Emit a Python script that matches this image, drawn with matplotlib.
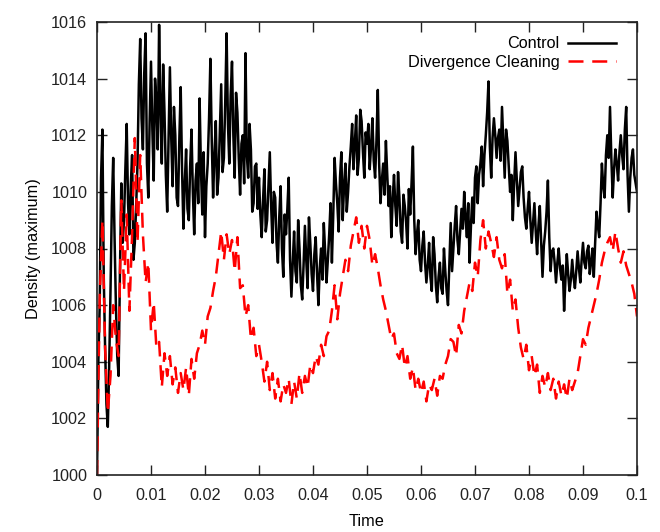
import numpy as np
import matplotlib
matplotlib.use("Agg")
import matplotlib.pyplot as plt

# ---- data ----
# Control: sampled every 0.00025 in time
control = [
    1000.0, 1004.0, 1006.0, 1010.5, 1012.2, 1007.0, 1004.5, 1002.5, 1001.7, 1003.8,
    1006.5, 1009.5, 1011.2, 1008.4, 1006.0, 1004.2, 1003.5, 1007.2, 1010.3, 1008.2,
    1009.0, 1010.8, 1012.4, 1009.6, 1008.5, 1010.2, 1011.3, 1007.6, 1008.2, 1009.5,
    1011.0, 1013.8, 1015.4, 1012.6, 1011.5, 1014.2, 1015.6, 1011.0, 1009.8, 1012.5,
    1014.6, 1012.2, 1010.4, 1014.0, 1013.2, 1011.5, 1015.9, 1013.0, 1011.0, 1014.5,
    1012.8, 1010.6, 1009.3, 1011.8, 1014.4, 1011.9, 1010.2, 1013.0, 1012.0, 1009.8,
    1009.5, 1011.9, 1013.7, 1010.8, 1008.7, 1010.3, 1011.5, 1009.4, 1009.0, 1010.9,
    1012.2, 1010.0, 1008.5, 1010.4, 1011.0, 1009.6, 1013.3, 1010.8, 1009.2, 1011.4,
    1008.4, 1010.2, 1011.0, 1012.6, 1014.7, 1011.8, 1009.8, 1011.3, 1012.5, 1009.9,
    1010.5, 1012.2, 1013.8, 1010.7, 1011.2, 1013.2, 1015.6, 1012.4, 1011.0, 1013.4,
    1014.6, 1012.0, 1010.5, 1013.5, 1012.8, 1011.2, 1009.9, 1011.7, 1012.0, 1010.3,
    1014.9, 1011.3, 1010.5, 1012.4, 1011.5, 1009.3, 1009.6, 1010.9, 1011.0, 1009.4,
    1010.5, 1009.2, 1008.4, 1009.7, 1010.8, 1008.6, 1009.0, 1010.2, 1011.4, 1009.5,
    1008.2, 1010.0, 1009.8, 1008.2, 1007.5, 1009.1, 1010.2, 1008.0, 1007.0, 1009.2,
    1008.5, 1009.4, 1010.5, 1007.6, 1006.3, 1007.5, 1008.6, 1007.2, 1006.8, 1009.0,
    1008.0, 1006.7, 1006.2, 1007.4, 1008.8, 1007.6, 1006.6, 1009.1, 1008.2, 1007.1,
    1006.5, 1007.8, 1008.4, 1007.1, 1006.0, 1007.3, 1008.0, 1006.9, 1008.9, 1007.9,
    1006.8, 1007.6, 1008.5, 1009.6, 1007.5, 1009.2, 1011.2, 1010.3, 1009.6, 1008.6,
    1010.5, 1011.4, 1009.0, 1010.2, 1011.0, 1009.3, 1010.0, 1010.9, 1011.6, 1012.4,
    1010.8, 1011.7, 1012.7, 1010.6, 1011.2, 1012.9, 1012.5, 1011.4, 1010.5, 1012.1,
    1011.7, 1012.4, 1010.8, 1011.6, 1012.6, 1011.1, 1010.5, 1011.8, 1013.6, 1011.0,
    1009.6, 1010.4, 1011.0, 1009.9, 1011.8, 1010.6, 1009.5, 1010.2, 1008.4, 1009.7,
    1010.6, 1009.5, 1008.8, 1010.7, 1009.8, 1008.6, 1008.2, 1009.9, 1009.5, 1008.9,
    1008.0, 1010.1, 1009.2, 1010.3, 1011.6, 1009.0, 1007.8, 1008.5, 1009.0, 1007.6,
    1007.2, 1008.1, 1008.6, 1007.5, 1006.8, 1007.4, 1008.2, 1007.0, 1006.5, 1008.4,
    1007.8, 1006.7, 1006.1, 1007.0, 1007.5, 1006.6, 1006.4, 1008.0, 1007.2, 1006.5,
    1006.0, 1007.4, 1008.9, 1007.2, 1008.0, 1008.8, 1009.5, 1008.3, 1007.8, 1008.6,
    1009.4, 1008.7, 1010.0, 1009.1, 1008.4, 1009.6, 1007.5, 1008.8, 1009.8, 1008.9,
    1010.5, 1010.9, 1009.6, 1010.6, 1011.0, 1011.6, 1010.2, 1011.3, 1012.0, 1012.8,
    1013.9, 1011.6, 1010.5, 1011.9, 1012.6, 1012.0, 1011.2, 1011.9, 1012.2, 1011.1,
    1013.0, 1011.7, 1010.5, 1012.2, 1011.8, 1010.9, 1010.0, 1010.6, 1009.0, 1010.3,
    1011.4, 1010.4, 1009.5, 1010.1, 1010.7, 1010.9, 1009.8, 1009.1, 1008.7, 1009.4,
    1010.0, 1009.0, 1008.2, 1008.9, 1009.6, 1008.6, 1007.8, 1008.8, 1009.5, 1008.2,
    1007.0, 1008.1, 1008.6, 1009.3, 1010.4, 1008.4, 1007.2, 1007.9, 1008.0, 1007.5,
    1006.8, 1007.5, 1008.0, 1007.3, 1006.9, 1007.4, 1005.8, 1006.9, 1007.8, 1007.1,
    1006.5, 1006.9, 1007.6, 1007.0, 1006.6, 1007.2, 1007.9, 1007.3, 1006.8, 1007.6,
    1008.2, 1007.5, 1007.3, 1007.9, 1008.1, 1007.1, 1007.5, 1008.0, 1007.0, 1008.2,
    1009.3, 1008.8, 1008.4, 1009.6, 1011.0, 1010.2, 1009.8, 1011.3, 1012.0, 1011.2,
    1013.0, 1011.2, 1009.8, 1010.8, 1011.5, 1011.0, 1010.4, 1011.4, 1012.0, 1011.3,
    1010.8, 1012.2, 1013.0, 1010.6, 1009.3, 1010.5, 1011.2, 1011.5, 1010.6, 1010.3,
    1010.0,
]
# Divergence cleaning: sampled every 0.0005 in time
cleaning = [
    1000.0, 1006.2, 1009.0, 1004.5, 1002.2, 1003.5, 1006.0, 1004.8, 1004.2, 1009.7,
    1006.5, 1009.2, 1005.8, 1008.5, 1011.9, 1008.2, 1011.3, 1008.5, 1006.8, 1007.5,
    1005.1, 1006.1, 1004.5, 1004.7, 1003.1, 1004.3, 1003.5, 1004.2, 1003.2, 1003.8,
    1002.9, 1003.6, 1003.0, 1003.8, 1002.8, 1004.1, 1003.4, 1004.3, 1004.6, 1005.1,
    1004.6, 1005.6, 1005.9, 1006.5, 1007.0, 1007.8, 1008.6, 1007.6, 1008.5, 1007.8,
    1008.3, 1007.2, 1008.4, 1006.6, 1006.7, 1005.6, 1006.0, 1004.8, 1005.2, 1004.2,
    1004.6, 1004.0, 1003.3, 1004.0, 1003.0, 1003.6, 1002.7, 1003.4, 1002.6, 1003.2,
    1002.9, 1003.4, 1002.5, 1003.3, 1002.7, 1003.6, 1002.9, 1003.5, 1003.1, 1003.9,
    1003.6, 1004.2, 1003.9, 1004.6, 1004.2, 1004.9, 1005.1, 1005.8, 1006.7, 1005.5,
    1006.4, 1007.0, 1007.6, 1007.2, 1008.1, 1008.6, 1009.1, 1008.2, 1008.8, 1008.0,
    1008.8, 1008.3, 1007.4, 1007.8, 1007.3, 1006.7, 1006.2, 1005.8, 1005.3, 1004.8,
    1005.0, 1004.3, 1004.1, 1004.6, 1003.8, 1004.2, 1003.4, 1003.8, 1003.0, 1003.4,
    1002.9, 1003.3, 1002.6, 1003.2, 1003.0, 1003.4, 1002.8, 1003.5, 1003.4, 1003.9,
    1004.2, 1004.8, 1004.7, 1004.2, 1005.3, 1005.0, 1005.8, 1006.3, 1006.8, 1006.5,
    1007.5, 1007.0, 1008.3, 1009.0, 1008.0, 1008.6, 1008.2, 1007.7, 1008.4, 1007.6,
    1007.3, 1007.8, 1006.4, 1006.9, 1005.8, 1006.2, 1005.2, 1004.5, 1004.1, 1004.6,
    1003.7, 1004.2, 1003.5, 1003.9, 1002.9, 1003.5, 1003.1, 1003.6, 1003.0, 1003.4,
    1002.7, 1003.3, 1002.8, 1003.2, 1002.7, 1003.4, 1003.0, 1003.3, 1003.6, 1004.2,
    1004.8, 1004.6, 1005.2, 1005.6, 1006.0, 1006.4, 1006.9, 1007.5, 1007.9, 1008.2,
    1008.4, 1007.9, 1008.6, 1008.0, 1007.5, 1007.9, 1007.4, 1007.1, 1006.8, 1006.4,
    1005.6,
]
assert len(control) == 401 and len(cleaning) == 201
time_control = np.round(np.arange(len(control)) * 0.00025, 5)
time_cleaning = np.round(np.arange(len(cleaning)) * 0.0005, 5)
series_labels = ["Control", "Divergence Cleaning"]
x_ticks = [0, 0.01, 0.02, 0.03, 0.04, 0.05, 0.06, 0.07, 0.08, 0.09, 0.1]
x_tick_labels = ["0", "0.01", "0.02", "0.03", "0.04", "0.05", "0.06", "0.07", "0.08", "0.09", "0.1"]
y_ticks = [1000, 1002, 1004, 1006, 1008, 1010, 1012, 1014, 1016]

FS = 11.7
plt.rcParams['font.family'] = ['Liberation Sans', 'DejaVu Sans']
fig = plt.figure(figsize=(6.6, 5.32), dpi=100)
ax = fig.add_axes([97/660, 57/532, 540/660, 453/532])

ax.plot(time_control, control, color='black', lw=1.8, label=series_labels[0])
ax.plot(time_cleaning, cleaning, color='#ff0000', lw=1.8, dashes=(6, 3.5), label=series_labels[1])

ax.set_xlim(0, 0.1)
ax.set_ylim(1000, 1016)
ax.set_xticks(x_ticks)
ax.set_xticklabels(x_tick_labels)
ax.set_yticks(y_ticks)
ax.tick_params(direction='in', length=7.2, width=1, top=True, right=True,
               labelsize=FS, colors='#222222', pad=7)
ax.tick_params(axis='x', pad=9)
for s in ax.spines.values():
    s.set_linewidth(1.2)
    s.set_color('#222222')

ax.set_xlabel("Time", fontsize=FS, labelpad=8)
ax.set_ylabel("Density (maximum)", fontsize=FS, labelpad=7)

leg = ax.legend(loc='upper right', frameon=False, markerfirst=False, fontsize=FS,
                handlelength=3.0, handletextpad=0.5, labelspacing=0.2,
                borderaxespad=0.2, bbox_to_anchor=(0.98, 0.99))

fig.savefig("out.png", dpi=100)
